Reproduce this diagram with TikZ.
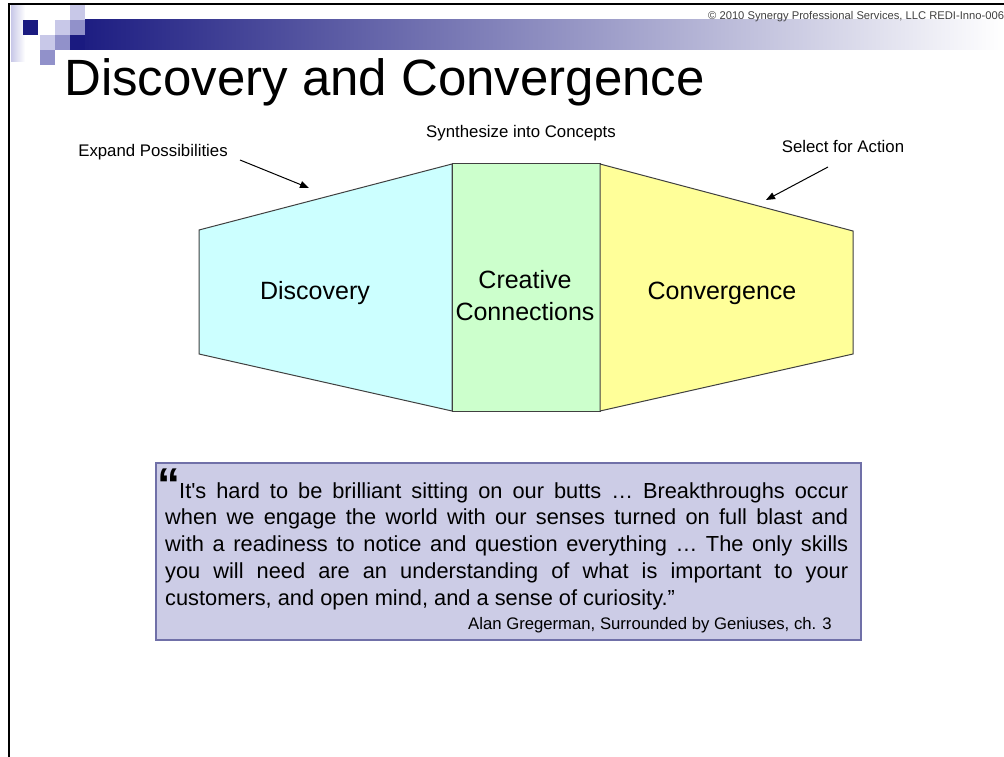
\documentclass[tikz,border=0pt]{standalone}
\usepackage{fontspec}
\setmainfont{Liberation Sans}
\newfontfamily\quotefont{Liberation Sans}[Ligatures=TeXOff]
\usetikzlibrary{arrows.meta}

\definecolor{navy}{RGB}{26,26,128}
\definecolor{lavlight}{RGB}{200,200,232}
\definecolor{lavmid}{RGB}{145,145,202}
\definecolor{cyanfill}{RGB}{204,255,255}
\definecolor{greenfill}{RGB}{204,255,204}
\definecolor{yellowfill}{RGB}{255,255,153}
\definecolor{edgegray}{RGB}{64,64,64}
\definecolor{quotefill}{RGB}{204,204,230}
\definecolor{quoteedge}{RGB}{112,112,168}

\tikzset{
  stage/.style={draw=edgegray, line width=1pt, line join=miter},
  stagelabel/.style={inner sep=0pt, anchor=base, font=\fontsize{25}{32}\selectfont, align=center},
  note/.style={inner sep=0pt, anchor=base, font=\fontsize{16.8}{20}\selectfont},
  pointer/.style={draw=black, line width=1pt, -{Triangle[length=9pt,width=7pt]}}
}

\begin{document}
\begin{tikzpicture}[x=1pt,y=-1pt]
\useasboundingbox (0,0) rectangle (1004,757);
\fill[white] (0,0) rectangle (1004,757);

% header band fading to white
\shade[left color=navy, right color=white] (70,20) rectangle (1004,50);

% decorative tiles
\shade[left color=lavlight, right color=white] (11,6) rectangle (25,62);
\fill[navy]     (23,20) rectangle (38,35);
\fill[lavlight] (70,5)  rectangle (85,20);
\fill[lavlight] (55,20) rectangle (70,35);
\fill[lavmid]   (70,20) rectangle (85,35);
\fill[lavlight] (40,35) rectangle (55,50);
\fill[lavmid]   (55,35) rectangle (70,50);
\fill[navy]     (70,35) rectangle (85,50);
\fill[lavmid]   (40,50) rectangle (55,65);

% slide frame
\draw[line width=2pt] (8,4) -- (1004,4);
\draw[line width=2pt] (9,4) -- (9,757);

% copyright line and title
\node[anchor=base west, inner sep=0pt, font=\fontsize{11.2}{13}\selectfont, text=black!75]
  (copy) at (708,20) {© 2010 Synergy Professional Services, LLC REDI-Inno-006};
\node[anchor=base west, inner sep=0pt, font=\fontsize{51}{56}\selectfont]
  (title) at (64,96) {Discovery and Convergence};

% the three stages
\coordinate (dTL) at (199,230);
\coordinate (dBL) at (199,354);
\coordinate (mTL) at (452,164);
\coordinate (mBL) at (452,411);
\coordinate (mTR) at (600,164);
\coordinate (mBR) at (600,411);
\coordinate (cTR) at (853,231);
\coordinate (cBR) at (853,354);

\filldraw[stage, fill=cyanfill]   (dTL) -- (mTL) -- (mBL) -- (dBL) -- cycle;
\filldraw[stage, fill=greenfill]  (mTL) -- (mTR) -- (mBR) -- (mBL) -- cycle;
\filldraw[stage, fill=yellowfill] (mTR) -- (cTR) -- (cBR) -- (mBR) -- cycle;

\node[stagelabel] (disc) at (315,299) {Discovery};
\node[stagelabel] (crea) at (525,320) {Creative\\Connections};
\node[stagelabel] (conv) at (722,299) {Convergence};

% annotations
\node[note] (expand) at (153,157) {Expand Possibilities};
\node[note] (synth)  at (521,138) {Synthesize into Concepts};
\node[note] (select) at (843,153) {Select for Action};

\coordinate (expandFrom) at (240,160);
\coordinate (expandTo)   at (309,188);
\coordinate (selectFrom) at (828,167);
\coordinate (selectTo)   at (766,200);
\draw[pointer] (expandFrom) -- (expandTo);
\draw[pointer] (selectFrom) -- (selectTo);

% quotation panel
\node[draw=quoteedge, fill=quotefill, line width=2pt, inner sep=0pt,
      minimum width=705pt, minimum height=177pt, anchor=north west]
  (panel) at (155,462) {};
\node[anchor=base west, inner sep=0pt, font=\bfseries\fontsize{46}{46}\selectfont]
  (qmark) at (157.5,500) {“};
\node[anchor=base west, inner sep=0pt] (quote) at (165,498)
  {\parbox[t]{683pt}{\quotefont\fontsize{21.8}{26.8}\selectfont\tolerance=10000\parindent=0pt
   \hspace*{14pt}It's hard to be brilliant sitting on our butts … Breakthroughs occur\linebreak
   when we engage the world with our senses turned on full blast and\linebreak
   with a readiness to notice and question everything … The only skills\linebreak
   you will need are an understanding of what is important to your\linebreak
   customers, and open mind, and a sense of curiosity.”}};
\node[anchor=base east, inner sep=0pt, font=\fontsize{16.7}{20}\selectfont]
  (source) at (832,629) {Alan Gregerman, Surrounded by Geniuses, ch. 3};
\end{tikzpicture}
\end{document}
